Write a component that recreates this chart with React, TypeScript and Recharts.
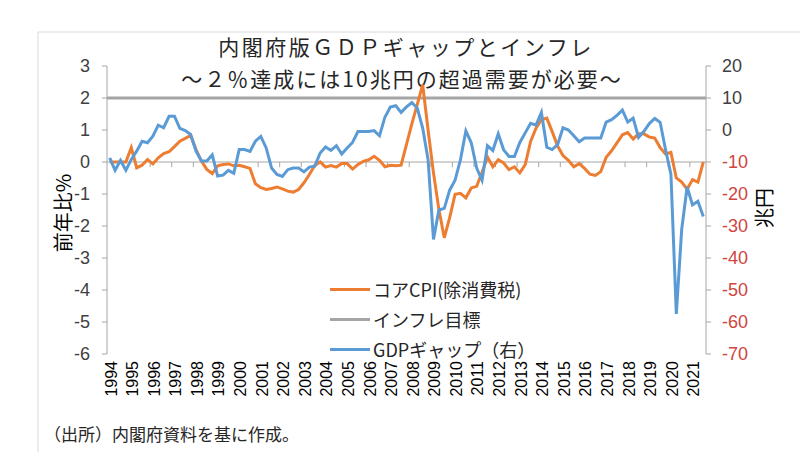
import { LineChart, Line, XAxis, YAxis, ReferenceLine } from "recharts";

// quarterly, 1994Q1 .. 2021Q3
const years = [
  "1994", "1995", "1996", "1997", "1998", "1999", "2000", "2001", "2002", "2003",
  "2004", "2005", "2006", "2007", "2008", "2009", "2010", "2011", "2012", "2013",
  "2014", "2015", "2016", "2017", "2018", "2019", "2020", "2021",
];

// コアCPI(除消費税), 前年比%
const coreCpi = [
  0, 0, 0, 0,
  0.45, -0.18, -0.1, 0.08,
  -0.06, 0.13, 0.26, 0.32,
  0.48, 0.65, 0.74, 0.83,
  0.39, 0.03, -0.23, -0.36,
  -0.12, -0.08, -0.06, -0.12,
  -0.1, -0.15, -0.2, -0.68,
  -0.8, -0.86, -0.83, -0.78,
  -0.84, -0.91, -0.94, -0.86,
  -0.65, -0.39, -0.11, 0,
  -0.16, -0.11, -0.16, -0.05,
  -0.05, -0.22, -0.08, 0.02,
  0.07, 0.18, 0.05, -0.15,
  -0.1, -0.12, -0.1, 0.55,
  1.2, 1.8, 2.42, 1.0,
  -0.34, -1.48, -2.37, -1.74,
  -1.01, -0.98, -1.12, -0.81,
  -0.76, -0.32, 0.16, -0.15,
  0.07, -0.03, -0.24, -0.15,
  -0.34, -0.08, 0.64, 1.06,
  1.32, 1.37, 0.95, 0.5,
  0.2, 0.05, -0.15, -0.05,
  -0.2, -0.38, -0.42, -0.3,
  0.15, 0.35, 0.6, 0.85,
  0.92, 0.72, 0.88, 0.88,
  0.78, 0.75, 0.45, 0.25,
  0.3, -0.5, -0.63, -0.85,
  -0.55, -0.63, 0,
];

// GDPギャップ, 兆円 (right axis)
const gdpGap = [
  -8.7, -12.6, -9.5, -12.6,
  -9.2, -6.6, -3.5, -4.0,
  -1.9, 1.5, 0.7, 4.3,
  4.3, 0.5, -0.2, -1.4,
  -6.6, -9.7, -9.7, -7.8,
  -14.4, -14.1, -12.6, -13.5,
  -6.1, -6.1, -6.7, -3.5,
  -2.0, -5.6, -11.9, -13.9,
  -14.5, -12.4, -11.9, -11.9,
  -13.1, -11.6, -11.3, -7.2,
  -5.3, -6.4, -4.9, -7.5,
  -5.6, -3.9, -0.5, -0.5,
  -0.5, -0.2, -1.8, 4.0,
  7.2, 7.6, 5.5, 7.2,
  8.6, 6.8, 0.6, -9.3,
  -34.2, -25.0, -24.5, -18.8,
  -15.7, -9.3, -0.3, -4.0,
  -11.9, -15.7, -4.9, -6.4,
  -1.2, -6.2, -8.3, -8.3,
  -3.9, -0.9, 2.1, 1.5,
  5.5, -5.4, -6.1, -4.6,
  0.7, 0.0, -1.8, -3.7,
  -2.5, -2.5, -2.5, -2.5,
  2.5, 3.2, 4.6, 6.2,
  2.5, 3.7, -2.3, -0.4,
  2.0, 3.6, 2.4, -6.1,
  -13.8, -57.5, -31.0, -17.8,
  -23.4, -22.3, -27.0,
];

const INFLATION_TARGET = 2;
const leftTicks = [3, 2, 1, 0, -1, -2, -3, -4, -5, -6];
const rightTicks = [20, 10, 0, -10, -20, -30, -40, -50, -60, -70];

const ORANGE = "#ED7D31";
const BLUE = "#5B9BD5";
const GRAY = "#A5A5A5";
const AXIS = "#A6A6A6";
const RED = "#D0453F";
const JP = '"Noto Sans CJK JP", sans-serif';
const NUM = '"Liberation Sans", Arial, sans-serif';

const data = coreCpi.map((v, i) => ({ x: i + 0.5, cpi: v, gap: gdpGap[i] }));
const yearStarts = years.map((_, k) => k * 4);

const YearTick = (props: any) => {
  const { x, y, payload } = props;
  const label = years[payload.value / 4];
  const tx = x + 4;
  return (
    <text
      x={tx}
      y={y}
      transform={`rotate(-90, ${tx}, ${y})`}
      textAnchor="end"
      dominantBaseline="central"
      fontSize={16}
      fontFamily={NUM}
      fill="#000"
    >
      {label}
    </text>
  );
};

const GapTick = (props: any) => {
  const { x, y, payload } = props;
  return (
    <text
      x={x}
      y={y}
      dy="0.355em"
      textAnchor="start"
      fontSize={18}
      fontFamily={NUM}
      fill={payload.value < 0 ? RED : "#404040"}
    >
      {payload.value}
    </text>
  );
};

const legendItems = [
  { label: "コアCPI(除消費税)", color: ORANGE },
  { label: "インフレ目標", color: GRAY },
  { label: "GDPギャップ（右）", color: BLUE },
];

export default function App() {
  return (
    <div
      style={{
        position: "fixed",
        left: 0,
        top: 0,
        width: 800,
        height: 474,
        background: "#fff",
        overflow: "hidden",
      }}
    >
      <svg width={800} height={474} style={{ position: "absolute", left: 0, top: 0 }}>
        <line x1={38} y1={32} x2={800} y2={32} stroke="#D9D9D9" />
        <line x1={38} y1={32} x2={38} y2={452} stroke="#D9D9D9" />
        <text x={406} y={46} textAnchor="middle" dominantBaseline="central" fontSize={21} letterSpacing={2.5} fontFamily={JP} fill="#262626">
          内閣府版ＧＤＰギャップとインフレ
        </text>
        <text x={402} y={78} textAnchor="middle" dominantBaseline="central" fontSize={21} letterSpacing={2} fontFamily={JP} fill="#262626">
          ～２％達成には10兆円の超過需要が必要～
        </text>
        <text x={62} y={213} transform="rotate(-90, 62, 213)" textAnchor="middle" dominantBaseline="central" fontSize={20} fontFamily={JP} fill="#000">
          前年比%
        </text>
        <text x={763} y={208} transform="rotate(-90, 763, 208)" textAnchor="middle" dominantBaseline="central" fontSize={20} fontFamily={JP} fill="#000">
          兆円
        </text>
        <text x={44} y={433} dominantBaseline="central" fontSize={17} fontFamily={JP} fill="#262626">
          （出所）内閣府資料を基に作成。
        </text>
      </svg>
      <div style={{ position: "absolute", left: 0, top: 0 }}>
        <LineChart width={800} height={474} data={data} margin={{ top: 66, right: 0, bottom: 0, left: 0 }}>
          <XAxis
            xAxisId={0}
            type="number"
            dataKey="x"
            domain={[0, coreCpi.length]}
            ticks={yearStarts}
            interval={0}
            tick={<YearTick />}
            axisLine={false}
            tickLine={false}
            tickSize={0}
            tickMargin={7}
            height={120}
          />
          <YAxis
            yAxisId="left"
            domain={[-6, 3]}
            ticks={leftTicks}
            interval={0}
            width={107}
            axisLine={{ stroke: AXIS }}
            tickLine={{ stroke: AXIS }}
            tickSize={5}
            tickMargin={12}
            tick={{ fill: "#404040", fontSize: 18, fontFamily: NUM }}
            allowDataOverflow
          />
          <YAxis
            yAxisId="right"
            orientation="right"
            domain={[-70, 20]}
            ticks={rightTicks}
            interval={0}
            width={94}
            axisLine={{ stroke: AXIS }}
            tickLine={{ stroke: AXIS }}
            tickSize={5}
            tickMargin={11}
            tick={<GapTick />}
            allowDataOverflow
          />
          <ReferenceLine yAxisId="left" y={0} stroke={AXIS} strokeWidth={1} />
          {yearStarts.slice(1).map((b) => (
            <ReferenceLine
              key={b}
              yAxisId="left"
              segment={[{ x: b, y: 0 }, { x: b, y: -0.16 }]}
              stroke={AXIS}
              strokeWidth={1}
            />
          ))}
          <ReferenceLine yAxisId="left" y={INFLATION_TARGET} stroke={GRAY} strokeWidth={3} />
          <Line
            yAxisId="left"
            dataKey="cpi"
            stroke={ORANGE}
            strokeWidth={3}
            dot={false}
            activeDot={false}
            isAnimationActive={false}
          />
          <Line
            yAxisId="right"
            dataKey="gap"
            stroke={BLUE}
            strokeWidth={3}
            dot={false}
            activeDot={false}
            isAnimationActive={false}
          />
        </LineChart>
      </div>
      <div style={{ position: "absolute", left: 330, top: 274, fontFamily: JP, fontSize: 18, color: "#262626" }}>
        {legendItems.map((it) => (
          <div key={it.label} style={{ display: "flex", alignItems: "center", height: 30 }}>
            <div style={{ width: 40, height: 3, background: it.color, marginRight: 3 }} />
            <span style={{ whiteSpace: "nowrap" }}>{it.label}</span>
          </div>
        ))}
      </div>
    </div>
  );
}
